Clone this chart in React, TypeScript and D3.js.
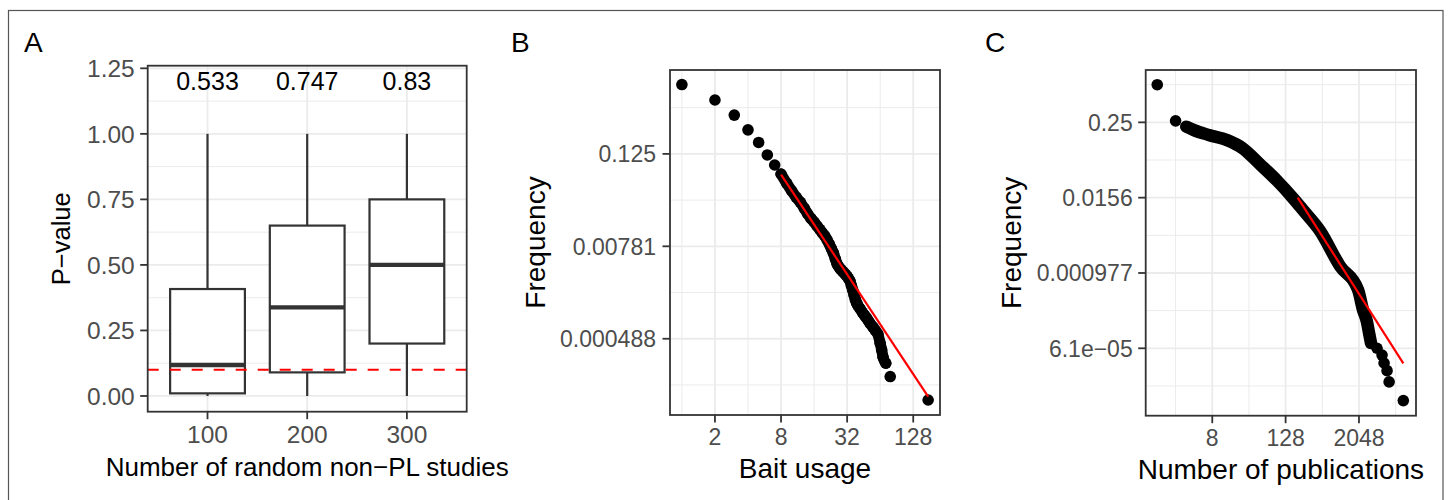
import React from "react";
import * as d3 from "d3";

// ---------- Panel A data ----------
const boxCategories = ["100", "200", "300"];
const boxWhiskerLow = [0, 0, 0];
const boxQ1 = [0.01, 0.09, 0.2];
const boxMedian = [0.118, 0.338, 0.5];
const boxQ3 = [0.408, 0.65, 0.75];
const boxWhiskerHigh = [1, 1, 1];
const boxPLabels = ["0.533", "0.747", "0.83"];
const pLabelY = 1.2;
const pThreshold = 0.1;
const aYTicks = [0, 0.25, 0.5, 0.75, 1, 1.25];
const aYTickLabels = ["0.00", "0.25", "0.50", "0.75", "1.00", "1.25"];
const aYMinor = [0.125, 0.375, 0.625, 0.875, 1.125];

// ---------- Panel B data ----------
const baitUsage = [1, 2, 3, 4, 5, 6, 7, 8, 9, 10, 11, 12, 13, 14, 15, 16, 17, 18, 19, 20, 21, 22, 23, 24, 25, 26, 27, 28, 29, 30, 31, 32, 33, 34, 35, 36, 37, 38, 39, 40, 42, 44, 46, 48, 50, 52, 55, 58, 61, 64, 66, 68, 72, 79, 175];
const baitFreq = [1, 0.629, 0.4, 0.257, 0.176, 0.121, 0.0896, 0.0684, 0.0518, 0.0412, 0.034, 0.0292, 0.0245, 0.0206, 0.018, 0.0162, 0.0144, 0.013, 0.0117, 0.0107, 0.0095, 0.00837, 0.00729, 0.00635, 0.00534, 0.00455, 0.00419, 0.00391, 0.0037, 0.00352, 0.00335, 0.00317, 0.00296, 0.00276, 0.0024, 0.00209, 0.00182, 0.00159, 0.00143, 0.00133, 0.0012, 0.00108, 0.00099, 0.000911, 0.000838, 0.000766, 0.000691, 0.000623, 0.000561, 0.000425, 0.00035, 0.00028, 0.000234, 0.000157, 0.0000778];
const baitFitX = [8, 175];
const baitFitY = [0.067, 0.0000862];
const bXTicks = [2, 8, 32, 128];
const bXMinor = [1, 4, 16, 64];
const bYTicks = [0.125, 0.0078125, 0.00048828125];
const bYTickLabels = ["0.125", "0.00781", "0.000488"];
const bYMinor = [0.5, 0.03125, 0.001953125, 0.0001220703125];

// ---------- Panel C data ----------
const pubCount = [1, 2, 3, 4, 7, 14, 25, 48, 92, 169, 247, 471, 1000, 1980, 2390, 2770, 3000, 3230, 4050, 4900, 5290, 5920, 6400, 10950];
const pubFreq = [1, 0.264, 0.213, 0.188, 0.157, 0.13, 0.097, 0.054, 0.0294, 0.0154, 0.0099, 0.00458, 0.00126, 0.000524, 0.00025, 0.000161, 0.000107, 0.0000739, 0.0000611, 0.0000475, 0.0000355, 0.0000268, 0.0000177, 0.0000089];
const pubFitX = [202, 10950];
const pubFitY = [0.0156, 0.000035];
const cXTicks = [8, 128, 2048];
const cXMinor = [2, 32, 512, 8192];
const cYTicks = [0.25, 0.015625, 0.0009765625, 0.00006103515625];
const cYTickLabels = ["0.25", "0.0156", "0.000977", "6.1e\u221205"];
const cYMinor = [1, 0.0625, 0.00390625, 0.000244140625, 0.0000152587890625];

const FONT = "'Liberation Sans', Arial, Helvetica, sans-serif";
const GRID = "#ebebeb";
const BORDER = "#333333";
const TICKTXT = "#4d4d4d";

type Box = { l: number; t: number; r: number; b: number };

function Frame({ box, xs, ys, xMajor, xMinor, yMajor, yMinor, children, xTickVals, xTickLabels, yTickVals, yTickLabels, tickSize, yLabelGap, xLabelY, tickFont }: any) {
  return (
    <g>
      <rect x={box.l} y={box.t} width={box.r - box.l} height={box.b - box.t} fill="#fff" />
      {yMinor.map((v: number, i: number) => (
        <line key={"ym" + i} x1={box.l} x2={box.r} y1={ys(v)} y2={ys(v)} stroke={GRID} strokeWidth={1} />
      ))}
      {xMinor.map((v: number, i: number) => (
        <line key={"xm" + i} y1={box.t} y2={box.b} x1={xs(v)} x2={xs(v)} stroke={GRID} strokeWidth={1} />
      ))}
      {yMajor.map((v: number, i: number) => (
        <line key={"yM" + i} x1={box.l} x2={box.r} y1={ys(v)} y2={ys(v)} stroke={GRID} strokeWidth={1.8} />
      ))}
      {xMajor.map((v: number, i: number) => (
        <line key={"xM" + i} y1={box.t} y2={box.b} x1={xs(v)} x2={xs(v)} stroke={GRID} strokeWidth={1.8} />
      ))}
      {children}
      <rect x={box.l} y={box.t} width={box.r - box.l} height={box.b - box.t} fill="none" stroke={BORDER} strokeWidth={1.8} />
      {yTickVals.map((v: number, i: number) => (
        <g key={"yt" + i}>
          <line x1={box.l - tickSize} x2={box.l} y1={ys(v)} y2={ys(v)} stroke={BORDER} strokeWidth={1.8} />
          <text x={box.l - yLabelGap} y={ys(v)} dy="0.36em" textAnchor="end" fill={TICKTXT} fontSize={tickFont}>{yTickLabels[i]}</text>
        </g>
      ))}
      {xTickVals.map((v: number, i: number) => (
        <g key={"xt" + i}>
          <line y1={box.b} y2={box.b + tickSize} x1={xs(v)} x2={xs(v)} stroke={BORDER} strokeWidth={1.8} />
          <text x={xs(v)} y={xLabelY} textAnchor="middle" fill={TICKTXT} fontSize={tickFont}>{xTickLabels[i]}</text>
        </g>
      ))}
    </g>
  );
}

export default function App() {
  // Panel A
  const boxA: Box = { l: 147.7, t: 65.7, r: 466.7, b: 411.7 };
  const xA = d3.scaleLinear().domain([0.4, 3.6]).range([boxA.l, boxA.r]);
  const yA = d3.scaleLinear().domain([-0.06, 1.26]).range([boxA.b, boxA.t]);
  const catIdx = boxCategories.map((_, i) => i + 1);
  const halfW = 0.375;

  // Panel B
  const boxB: Box = { l: 670, t: 70, r: 940, b: 415 };
  const xB = d3.scaleLog().base(2).domain([Math.pow(2, -0.36), Math.pow(2, 7.81)]).range([boxB.l, boxB.r]);
  const yB = d3.scaleLog().base(2).domain([Math.pow(2, -14.3), Math.pow(2, 0.63)]).range([boxB.b, boxB.t]);
  const bPts = baitUsage.map((u, i) => [u, baitFreq[i]] as [number, number]);
  const bBand = bPts.filter((p) => p[0] >= 8 && p[0] <= 72);
  const lineB = d3.line<[number, number]>().x((d) => xB(d[0])).y((d) => yB(d[1])).curve(d3.curveMonotoneX);

  // Panel C
  const boxC: Box = { l: 1145.7, t: 70, r: 1416, b: 415.7 };
  const xC = d3.scaleLog().base(2).domain([Math.pow(2, -0.63), Math.pow(2, 14.11)]).range([boxC.l, boxC.r]);
  const yC = d3.scaleLog().base(2).domain([Math.pow(2, -17.58), Math.pow(2, 0.78)]).range([boxC.b, boxC.t]);
  const cPts = pubCount.map((u, i) => [u, pubFreq[i]] as [number, number]);
  const cBand = cPts.filter((p) => p[0] >= 3 && p[0] <= 3230);
  const lineC = d3.line<[number, number]>().x((d) => xC(d[0])).y((d) => yC(d[1])).curve(d3.curveMonotoneX);

  const R = 5.8;

  return (
    <svg width={1448} height={500} style={{ position: "absolute", left: 0, top: 0, fontFamily: FONT }}>
      <rect x={0} y={0} width={1448} height={500} fill="#fff" />
      <rect x={8.5} y={10.5} width={1434.5} height={500} fill="none" stroke="#555" strokeWidth={1.2} />

      {/* Panel A */}
      <text x={24} y={52} fontSize={28} fill="#000">A</text>
      <Frame box={boxA} xs={(v: number) => v} ys={yA} xMajor={catIdx.map((i) => xA(i))} xMinor={[]}
        yMajor={aYTicks} yMinor={aYMinor} xTickVals={catIdx.map((i) => xA(i))} xTickLabels={boxCategories}
        yTickVals={aYTicks} yTickLabels={aYTickLabels} tickSize={7.5} yLabelGap={13} xLabelY={443} tickFont={24.5}>
        {catIdx.map((c, i) => (
          <g key={"box" + i}>
            <line x1={xA(c)} x2={xA(c)} y1={yA(boxQ3[i])} y2={yA(boxWhiskerHigh[i])} stroke={BORDER} strokeWidth={2.2} />
            <line x1={xA(c)} x2={xA(c)} y1={yA(boxQ1[i])} y2={yA(boxWhiskerLow[i])} stroke={BORDER} strokeWidth={2.2} />
            <rect x={xA(c - halfW)} y={yA(boxQ3[i])} width={xA(c + halfW) - xA(c - halfW)} height={yA(boxQ1[i]) - yA(boxQ3[i])}
              fill="#fff" stroke={BORDER} strokeWidth={2.2} />
            <line x1={xA(c - halfW)} x2={xA(c + halfW)} y1={yA(boxMedian[i])} y2={yA(boxMedian[i])} stroke={BORDER} strokeWidth={4.4} />
            <text x={xA(c)} y={yA(pLabelY)} dy="0.36em" textAnchor="middle" fontSize={25} fill="#000">{boxPLabels[i]}</text>
          </g>
        ))}
        <line x1={boxA.l} x2={boxA.r} y1={yA(pThreshold)} y2={yA(pThreshold)} stroke="#ff0000" strokeWidth={2.2} strokeDasharray="11,11" />
      </Frame>
      <text transform={`translate(70,${(boxA.t + boxA.b) / 2}) rotate(-90)`} textAnchor="middle" fontSize={25.5} fill="#000">P−value</text>
      <text x={(boxA.l + boxA.r) / 2} y={476} textAnchor="middle" fontSize={26} fill="#000">Number of random non−PL studies</text>

      {/* Panel B */}
      <text x={511} y={52} fontSize={28} fill="#000">B</text>
      <Frame box={boxB} xs={xB} ys={yB} xMajor={bXTicks} xMinor={bXMinor} yMajor={bYTicks} yMinor={bYMinor}
        xTickVals={bXTicks} xTickLabels={bXTicks.map(String)} yTickVals={bYTicks} yTickLabels={bYTickLabels}
        tickSize={7.5} yLabelGap={14} xLabelY={445} tickFont={23}>
        <path d={lineB(bBand) || ""} fill="none" stroke="#000" strokeWidth={11} strokeLinecap="round" strokeLinejoin="round" />
        {bPts.map((p, i) => (
          <circle key={"bp" + i} cx={xB(p[0])} cy={yB(p[1])} r={R} fill="#000" />
        ))}
        <line x1={xB(baitFitX[0])} x2={xB(baitFitX[1])} y1={yB(baitFitY[0])} y2={yB(baitFitY[1])} stroke="#ff0000" strokeWidth={2.2} />
      </Frame>
      <text transform={`translate(545,${(boxB.t + boxB.b) / 2}) rotate(-90)`} textAnchor="middle" fontSize={28} fill="#000">Frequency</text>
      <text x={(boxB.l + boxB.r) / 2} y={478} textAnchor="middle" fontSize={28} fill="#000">Bait usage</text>

      {/* Panel C */}
      <text x={985} y={52} fontSize={28} fill="#000">C</text>
      <Frame box={boxC} xs={xC} ys={yC} xMajor={cXTicks} xMinor={cXMinor} yMajor={cYTicks} yMinor={cYMinor}
        xTickVals={cXTicks} xTickLabels={cXTicks.map(String)} yTickVals={cYTicks} yTickLabels={cYTickLabels}
        tickSize={7.5} yLabelGap={13} xLabelY={446} tickFont={23}>
        <path d={lineC(cBand) || ""} fill="none" stroke="#000" strokeWidth={12.5} strokeLinecap="round" strokeLinejoin="round" />
        {cPts.map((p, i) => (
          <circle key={"cp" + i} cx={xC(p[0])} cy={yC(p[1])} r={R} fill="#000" />
        ))}
        <line x1={xC(pubFitX[0])} x2={xC(pubFitX[1])} y1={yC(pubFitY[0])} y2={yC(pubFitY[1])} stroke="#ff0000" strokeWidth={2.2} />
      </Frame>
      <text transform={`translate(1021,${(boxC.t + boxC.b) / 2}) rotate(-90)`} textAnchor="middle" fontSize={28} fill="#000">Frequency</text>
      <text x={(boxC.l + boxC.r) / 2} y={479} textAnchor="middle" fontSize={28} fill="#000">Number of publications</text>
    </svg>
  );
}
